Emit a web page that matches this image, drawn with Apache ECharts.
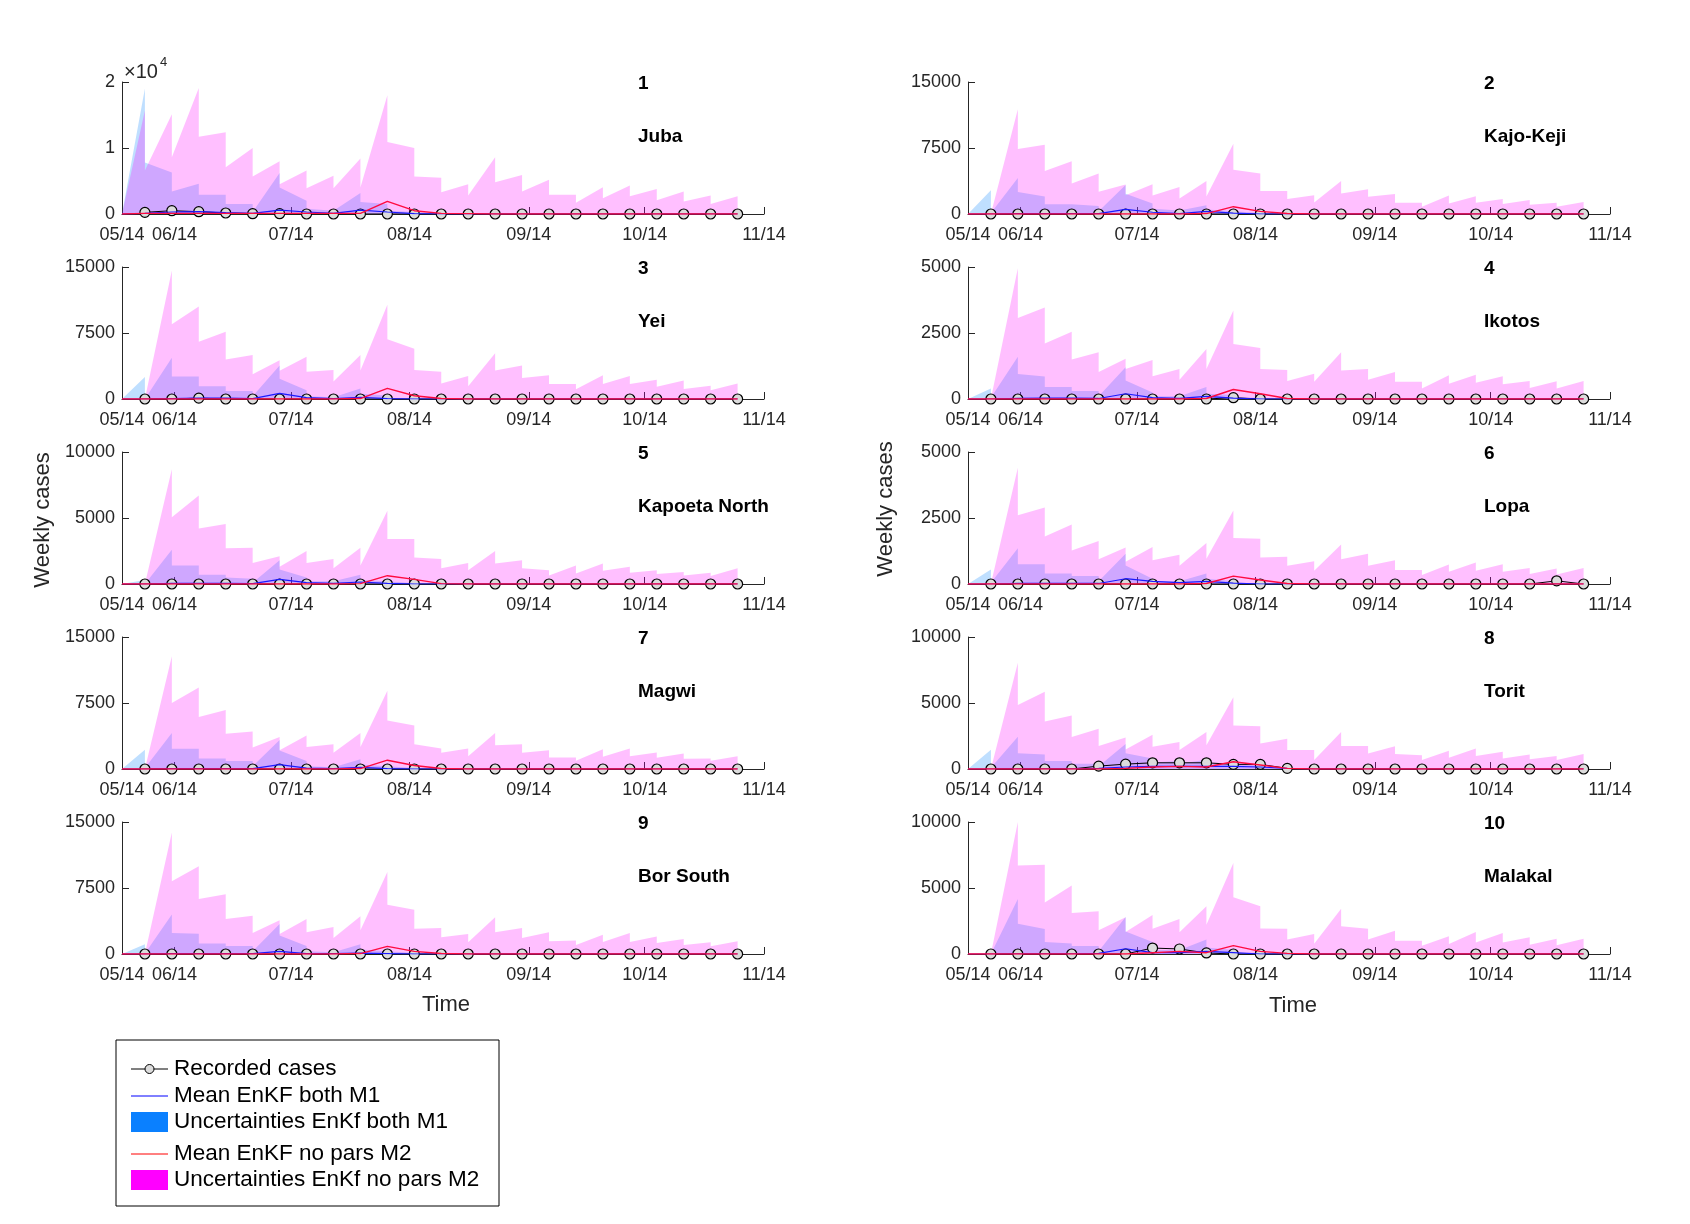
<!DOCTYPE html>
<html>
<head>
<meta charset="utf-8">
<title>EnKF weekly cases by district</title>
<script src="https://cdn.jsdelivr.net/npm/echarts@6.0.0/dist/echarts.min.js"></script>
<style>
  html, body { margin: 0; padding: 0; background: #fff; }
  #chart { width: 1690px; height: 1224px; }
</style>
</head>
<body>
<div id="chart"></div>
<script>
// time in weeks after 05/14, one entry per weekly report
const weekPos = [0.85, 1.85, 2.85, 3.85, 4.85, 5.85, 6.85, 7.85, 8.85, 9.85, 10.85, 11.85,
                 12.85, 13.85, 14.85, 15.85, 16.85, 17.85, 18.85, 19.85, 20.85, 21.85, 22.85];
// mean curves start at the axis origin
const meanPos = [0, 0.85, 1.85, 2.85, 3.85, 4.85, 5.85, 6.85, 7.85, 8.85, 9.85, 10.85, 11.85,
                 12.85, 13.85, 14.85, 15.85, 16.85, 17.85, 18.85, 19.85, 20.85, 21.85, 22.85];
const tickPos = [0, 1.95, 6.27, 10.67, 15.1, 19.4, 23.83];
const tickLabels = ['05/14', '06/14', '07/14', '08/14', '09/14', '10/14', '11/14'];

const districts = ['Juba', 'Kajo-Keji', 'Yei', 'Ikotos', 'Kapoeta North',
                   'Lopa', 'Magwi', 'Torit', 'Bor South', 'Malakal'];
const yMax = [20000, 15000, 15000, 5000, 10000, 5000, 15000, 10000, 15000, 10000];

// M2 band upper bound: forecast value reached at each report (peak) ...
const m2Peak = [
  [15700, 15100, 19100, 12400, 10000, 8000, 6600, 5800, 8400, 18000, 10000, 5500, 4500, 8600, 5900, 5200, 2900, 4050, 4300, 3800, 3400, 2800, 2700],
  [0, 11900, 7860, 6000, 4590, 3350, 3380, 3080, 3760, 7970, 4590, 2600, 2140, 3760, 2820, 2260, 1280, 2100, 2030, 1700, 1580, 1280, 1350],
  [0, 14600, 10500, 7650, 5000, 4400, 4800, 3300, 5000, 10700, 5700, 3100, 2600, 5200, 3800, 2700, 1700, 2700, 2600, 2200, 2100, 1500, 1750],
  [0, 4950, 3470, 2550, 1770, 1520, 1480, 1140, 1890, 3350, 1930, 1100, 960, 1770, 1140, 1020, 650, 900, 920, 860, 680, 670, 680],
  [0, 8700, 6700, 4550, 2750, 2100, 2500, 1900, 2750, 5550, 3400, 1900, 1600, 2500, 1800, 1050, 1400, 1550, 1300, 1050, 900, 850, 1200],
  [0, 4400, 2900, 2250, 1630, 1380, 1400, 1110, 1550, 2780, 1710, 1030, 860, 1500, 1150, 900, 530, 740, 810, 750, 610, 590, 610],
  [0, 12800, 9250, 6700, 4270, 3630, 3820, 2800, 4100, 8900, 4940, 2320, 2320, 4100, 2800, 2130, 1300, 2250, 2320, 1870, 1760, 1200, 1460],
  [0, 8050, 5850, 4050, 3050, 2380, 2600, 2050, 2800, 5430, 3230, 2300, 1430, 2800, 1750, 1730, 1050, 1380, 1550, 1300, 1100, 980, 1130],
  [0, 13800, 9960, 6800, 4360, 3830, 3980, 3070, 4280, 9320, 5040, 2950, 2270, 4170, 2950, 2460, 1520, 2200, 2390, 2000, 1700, 1330, 1440],
  [0, 10000, 6770, 5180, 3230, 2780, 2950, 2650, 3610, 6900, 3610, 1920, 1520, 3430, 1920, 1770, 1010, 1340, 1670, 1590, 1260, 1160, 1160]
];
// ... and value right after the analysis update
const m2Start = [
  [6600, 8600, 11700, 7100, 5700, 4500, 3900, 3900, 4000, 10900, 5700, 3300, 2800, 4800, 3400, 2900, 1700, 2400, 2700, 2100, 1900, 1500],
  [0, 7400, 4900, 3460, 2520, 2140, 2100, 1770, 2000, 5040, 2600, 1700, 1320, 2330, 1950, 1280, 830, 1200, 1280, 1130, 1050, 830],
  [0, 8500, 6500, 4500, 2800, 3200, 3100, 2000, 3250, 6800, 3300, 1750, 1450, 3250, 2400, 1700, 1100, 1700, 1700, 1400, 1150, 1000],
  [0, 3070, 2100, 1500, 1020, 1140, 860, 730, 1140, 2080, 1140, 680, 650, 1080, 730, 650, 400, 580, 620, 560, 420, 400],
  [0, 5050, 4200, 2700, 1600, 1300, 1600, 1200, 1400, 3400, 2000, 1200, 1050, 1550, 1200, 650, 800, 1000, 850, 750, 650, 600],
  [0, 2600, 1800, 1270, 940, 840, 900, 690, 960, 1740, 1000, 690, 500, 940, 690, 530, 340, 460, 500, 460, 380, 360],
  [0, 7500, 5900, 4000, 2430, 2130, 2500, 1840, 2500, 5500, 2800, 1840, 1460, 2700, 1840, 1300, 940, 1390, 1460, 1270, 1160, 940],
  [0, 4850, 3600, 2430, 1750, 1480, 1680, 1430, 1800, 3300, 1930, 1430, 680, 1750, 1180, 1130, 680, 850, 980, 800, 730, 680],
  [0, 8260, 6250, 3980, 2390, 2270, 2460, 1820, 2690, 5600, 2880, 1890, 1330, 2460, 1820, 1440, 1020, 1360, 1360, 1250, 1020, 870],
  [0, 6700, 3910, 3100, 1790, 1670, 1920, 1640, 2220, 4290, 1940, 1090, 780, 2100, 1090, 1010, 630, 760, 880, 880, 710, 660]
];

// M1 band upper bound, same layout
const m1Peak = [
  [19000, 6300, 4600, 2900, 1500, 6200, 2000, 500, 3200, 1500, 300, 0, 0, 0, 0, 0, 0, 0, 0, 0, 0, 0, 0],
  [2700, 4100, 2000, 1100, 900, 3300, 1200, 400, 1000, 300, 100, 0, 0, 0, 0, 0, 0, 0, 0, 0, 0, 0, 0],
  [2500, 4700, 2550, 1450, 900, 3800, 1000, 200, 1200, 400, 100, 0, 0, 0, 0, 0, 0, 0, 0, 0, 0, 0, 0],
  [400, 1600, 850, 450, 300, 1200, 250, 100, 450, 150, 50, 0, 0, 0, 0, 0, 0, 0, 0, 0, 0, 0, 0],
  [300, 2600, 1400, 700, 400, 1800, 500, 200, 700, 200, 50, 0, 0, 0, 0, 0, 0, 0, 0, 0, 0, 0, 0],
  [550, 1350, 750, 400, 300, 1150, 200, 100, 400, 100, 0, 0, 0, 0, 0, 0, 0, 0, 0, 0, 0, 0, 0],
  [2200, 4100, 2300, 1200, 900, 3300, 900, 200, 1100, 300, 100, 0, 0, 0, 0, 0, 0, 0, 0, 0, 0, 0, 0],
  [1450, 2450, 1100, 600, 400, 1900, 800, 600, 700, 500, 300, 100, 0, 0, 0, 0, 0, 0, 0, 0, 0, 0, 0],
  [1100, 4500, 2300, 1200, 900, 3400, 900, 200, 1100, 300, 100, 0, 0, 0, 0, 0, 0, 0, 0, 0, 0, 0, 0],
  [0, 4170, 1900, 800, 600, 2800, 900, 300, 1100, 300, 100, 0, 0, 0, 0, 0, 0, 0, 0, 0, 0, 0, 0]
];
const m1Start = [
  [7800, 3400, 2900, 1500, 300, 4000, 800, 300, 1800, 500, 0, 0, 0, 0, 0, 0, 0, 0, 0, 0, 0, 0],
  [100, 2500, 1100, 1000, 300, 2300, 600, 200, 500, 100, 0, 0, 0, 0, 0, 0, 0, 0, 0, 0, 0, 0],
  [0, 2550, 1450, 900, 300, 2300, 300, 100, 600, 100, 0, 0, 0, 0, 0, 0, 0, 0, 0, 0, 0, 0],
  [50, 950, 450, 300, 100, 700, 100, 50, 200, 50, 0, 0, 0, 0, 0, 0, 0, 0, 0, 0, 0, 0],
  [0, 1400, 700, 500, 100, 1100, 200, 100, 300, 50, 0, 0, 0, 0, 0, 0, 0, 0, 0, 0, 0, 0],
  [50, 750, 400, 300, 100, 700, 100, 50, 200, 0, 0, 0, 0, 0, 0, 0, 0, 0, 0, 0, 0, 0],
  [100, 2300, 1200, 900, 300, 2100, 300, 100, 500, 100, 0, 0, 0, 0, 0, 0, 0, 0, 0, 0, 0, 0],
  [100, 1200, 600, 400, 200, 1200, 500, 400, 400, 300, 100, 0, 0, 0, 0, 0, 0, 0, 0, 0, 0, 0],
  [50, 2400, 1200, 900, 300, 2100, 300, 100, 500, 100, 0, 0, 0, 0, 0, 0, 0, 0, 0, 0, 0, 0],
  [0, 2300, 900, 600, 200, 1700, 300, 200, 500, 100, 0, 0, 0, 0, 0, 0, 0, 0, 0, 0, 0, 0]
];

// recorded weekly cases
const recorded = [
  [250, 500, 350, 150, 50, 50, 0, 0, 0, 0, 0, 0, 0, 0, 0, 0, 0, 0, 0, 0, 0, 0, 0],
  [0, 0, 0, 0, 0, 0, 0, 0, 0, 0, 0, 0, 0, 0, 0, 0, 0, 0, 0, 0, 0, 0, 0],
  [0, 0, 100, 0, 0, 0, 0, 0, 0, 0, 0, 0, 0, 0, 0, 0, 0, 0, 0, 0, 0, 0, 0],
  [0, 0, 0, 0, 0, 0, 0, 0, 0, 50, 0, 0, 0, 0, 0, 0, 0, 0, 0, 0, 0, 0, 0],
  [0, 0, 0, 0, 0, 0, 0, 0, 0, 0, 0, 0, 0, 0, 0, 0, 0, 0, 0, 0, 0, 0, 0],
  [0, 0, 0, 0, 0, 0, 0, 0, 0, 0, 0, 0, 0, 0, 0, 0, 0, 0, 0, 0, 0, 120, 0],
  [0, 0, 0, 0, 0, 0, 0, 0, 0, 0, 0, 0, 0, 0, 0, 0, 0, 0, 0, 0, 0, 0, 0],
  [0, 0, 0, 0, 220, 370, 470, 470, 470, 350, 350, 50, 0, 0, 0, 0, 0, 0, 0, 0, 0, 0, 0],
  [0, 0, 0, 0, 0, 0, 0, 0, 0, 0, 0, 0, 0, 0, 0, 0, 0, 0, 0, 0, 0, 0, 0],
  [0, 0, 0, 0, 0, 0, 450, 380, 80, 0, 0, 0, 0, 0, 0, 0, 0, 0, 0, 0, 0, 0, 0]
];

// ensemble means (first value at the axis origin)
const m1Mean = [
  [0, 100, 300, 350, 200, 100, 600, 300, 100, 600, 300, 50, 0, 0, 0, 0, 0, 0, 0, 0, 0, 0, 0, 0],
  [0, 0, 50, 50, 50, 50, 530, 200, 50, 300, 100, 0, 0, 0, 0, 0, 0, 0, 0, 0, 0, 0, 0, 0],
  [0, 0, 50, 100, 100, 50, 630, 150, 50, 200, 50, 0, 0, 0, 0, 0, 0, 0, 0, 0, 0, 0, 0, 0],
  [0, 0, 20, 30, 30, 20, 200, 50, 20, 100, 30, 0, 0, 0, 0, 0, 0, 0, 0, 0, 0, 0, 0, 0],
  [0, 0, 50, 50, 50, 30, 350, 100, 50, 150, 50, 0, 0, 0, 0, 0, 0, 0, 0, 0, 0, 0, 0, 0],
  [0, 0, 20, 20, 20, 20, 200, 100, 50, 100, 30, 0, 0, 0, 0, 0, 0, 0, 0, 0, 0, 0, 0, 0],
  [0, 0, 50, 50, 50, 50, 500, 100, 50, 200, 50, 0, 0, 0, 0, 0, 0, 0, 0, 0, 0, 0, 0, 0],
  [0, 0, 20, 20, 20, 50, 150, 200, 200, 200, 200, 150, 50, 0, 0, 0, 0, 0, 0, 0, 0, 0, 0, 0],
  [0, 0, 50, 50, 50, 50, 300, 50, 50, 100, 50, 0, 0, 0, 0, 0, 0, 0, 0, 0, 0, 0, 0, 0],
  [0, 0, 20, 20, 20, 50, 400, 100, 100, 200, 100, 0, 0, 0, 0, 0, 0, 0, 0, 0, 0, 0, 0, 0]
];
const m2Mean = [
  [0, 100, 100, 100, 100, 100, 100, 100, 100, 100, 1900, 500, 100, 50, 0, 0, 0, 0, 0, 0, 0, 0, 0, 0],
  [0, 0, 0, 0, 0, 0, 0, 0, 0, 50, 830, 300, 50, 0, 0, 0, 0, 0, 0, 0, 0, 0, 0, 0],
  [0, 0, 0, 0, 0, 0, 0, 0, 0, 50, 1200, 370, 50, 0, 0, 0, 0, 0, 0, 0, 0, 0, 0, 0],
  [0, 0, 0, 0, 0, 0, 0, 0, 0, 20, 360, 200, 20, 0, 0, 0, 0, 0, 0, 0, 0, 0, 0, 0],
  [0, 0, 0, 0, 0, 0, 0, 0, 0, 30, 630, 350, 30, 0, 0, 0, 0, 0, 0, 0, 0, 0, 0, 0],
  [0, 0, 0, 0, 0, 0, 0, 0, 0, 20, 300, 150, 20, 0, 0, 0, 0, 0, 0, 0, 0, 0, 0, 0],
  [0, 0, 0, 0, 0, 0, 0, 0, 0, 50, 1000, 400, 50, 0, 0, 0, 0, 0, 0, 0, 0, 0, 0, 0],
  [0, 0, 0, 0, 0, 0, 50, 150, 200, 150, 550, 300, 50, 0, 0, 0, 0, 0, 0, 0, 0, 0, 0, 0],
  [0, 0, 0, 0, 0, 0, 0, 0, 0, 50, 870, 300, 50, 0, 0, 0, 0, 0, 0, 0, 0, 0, 0, 0],
  [0, 0, 0, 0, 0, 0, 0, 100, 200, 100, 630, 200, 50, 0, 0, 0, 0, 0, 0, 0, 0, 0, 0, 0]
];

const FONT = '"Liberation Sans", Arial, Helvetica, sans-serif';
const AXIS_COLOR = '#262626';
const colLeft = [122, 968];
const colWidth = [642, 642];
const rowTop = [82, 267, 452, 637, 822];
const panelHeight = 132;

let myChart = echarts.init(document.getElementById('chart'), null, { renderer: 'canvas' });

// sawtooth band: forecast rises to the peak at each report, then drops to the analysis value
function bandPoints(peaks, starts) {
  const pts = [[meanPos[0], 0]];
  for (let i = 0; i < weekPos.length; i++) {
    pts.push([weekPos[i], peaks[i]]);
    pts.push([weekPos[i], i < starts.length ? starts[i] : 0]);
  }
  return pts;
}

function zip(xs, ys) {
  return xs.map((x, i) => [x, ys[i]]);
}

function nearestLabel(v) {
  let best = 0;
  for (let i = 1; i < tickPos.length; i++) {
    if (Math.abs(tickPos[i] - v) < Math.abs(tickPos[best] - v)) best = i;
  }
  return tickLabels[best];
}

const grids = [], xAxes = [], yAxes = [], series = [], graphics = [];

districts.forEach((name, i) => {
  const col = i % 2, row = Math.floor(i / 2);
  grids.push({ left: colLeft[col], top: rowTop[row], width: colWidth[col], height: panelHeight });

  xAxes.push({
    type: 'value', gridIndex: i, min: 0, max: tickPos[tickPos.length - 1],
    axisLine: { show: true, onZero: false, lineStyle: { color: AXIS_COLOR, width: 1 } },
    axisTick: { show: true, inside: true, length: 7, customValues: tickPos, lineStyle: { color: AXIS_COLOR } },
    axisLabel: { customValues: tickPos, formatter: nearestLabel, color: AXIS_COLOR,
                 fontFamily: FONT, fontSize: 18, margin: 12 },
    splitLine: { show: false }
  });

  yAxes.push({
    type: 'value', gridIndex: i, min: 0, max: yMax[i], interval: yMax[i] / 2,
    axisLine: { show: true, lineStyle: { color: AXIS_COLOR, width: 1 } },
    axisTick: { show: true, inside: true, length: 7, lineStyle: { color: AXIS_COLOR } },
    axisLabel: {
      color: AXIS_COLOR, fontFamily: FONT, fontSize: 18, margin: 7,
      formatter: yMax[i] === 20000 ? (v => String(v / 10000)) : (v => String(v))
    },
    splitLine: { show: false }
  });

  series.push({
    name: 'Uncertainties EnKf both M1', type: 'line', xAxisIndex: i, yAxisIndex: i,
    data: bandPoints(m1Peak[i], m1Start[i]), symbol: 'none', silent: true, z: 1,
    lineStyle: { width: 0 }, areaStyle: { color: 'rgba(0,128,255,0.25)', opacity: 1 }
  });
  series.push({
    name: 'Uncertainties EnKf no pars M2', type: 'line', xAxisIndex: i, yAxisIndex: i,
    data: bandPoints(m2Peak[i], m2Start[i]), symbol: 'none', silent: true, z: 2,
    lineStyle: { width: 0 }, areaStyle: { color: 'rgba(255,0,255,0.25)', opacity: 1 }
  });
  series.push({
    name: 'Recorded cases', type: 'line', xAxisIndex: i, yAxisIndex: i,
    data: zip(weekPos, recorded[i]), symbol: 'circle', symbolSize: 10, showSymbol: true,
    silent: true, z: 4,
    lineStyle: { color: '#000', width: 1 },
    itemStyle: { color: '#dcdcdc', borderColor: '#000', borderWidth: 1.2 }
  });
  series.push({
    name: 'Mean EnKF both M1', type: 'line', xAxisIndex: i, yAxisIndex: i,
    data: zip(meanPos, m1Mean[i]), symbol: 'none', silent: true, z: 5,
    lineStyle: { color: '#1a1aff', width: 1.2 }
  });
  series.push({
    name: 'Mean EnKF no pars M2', type: 'line', xAxisIndex: i, yAxisIndex: i,
    data: zip(meanPos, m2Mean[i]), symbol: 'none', silent: true, z: 6,
    lineStyle: { color: '#ff0a40', width: 1.4 }
  });

  // panel number and district name
  const labelX = colLeft[col] + 516;
  graphics.push({ type: 'text', x: labelX, y: rowTop[row] + 2,
    style: { text: String(i + 1), font: 'bold 19px ' + FONT, fill: '#000', verticalAlign: 'middle' } });
  graphics.push({ type: 'text', x: labelX, y: rowTop[row] + 55,
    style: { text: name, font: 'bold 19px ' + FONT, fill: '#000', verticalAlign: 'middle' } });
});

// exponent marker of the Juba axis
graphics.push({ type: 'text', x: 124, y: 72,
  style: { text: '×10', font: '20px ' + FONT, fill: AXIS_COLOR, verticalAlign: 'middle' } });
graphics.push({ type: 'text', x: 160, y: 62,
  style: { text: '4', font: '13px ' + FONT, fill: AXIS_COLOR, verticalAlign: 'middle' } });

// axis titles
graphics.push({ type: 'text', x: 43, y: 520, rotation: Math.PI / 2,
  style: { text: 'Weekly cases', font: '22px ' + FONT, fill: AXIS_COLOR, align: 'center', verticalAlign: 'middle' } });
graphics.push({ type: 'text', x: 886, y: 509, rotation: Math.PI / 2,
  style: { text: 'Weekly cases', font: '22px ' + FONT, fill: AXIS_COLOR, align: 'center', verticalAlign: 'middle' } });
graphics.push({ type: 'text', x: 446, y: 1005,
  style: { text: 'Time', font: '22px ' + FONT, fill: AXIS_COLOR, align: 'center', verticalAlign: 'middle' } });
graphics.push({ type: 'text', x: 1293, y: 1006,
  style: { text: 'Time', font: '22px ' + FONT, fill: AXIS_COLOR, align: 'center', verticalAlign: 'middle' } });

// legend box
const legendRows = [1069, 1096, 1122, 1154, 1180];
const legendText = ['Recorded cases', 'Mean EnKF both M1', 'Uncertainties EnKf both M1',
                    'Mean EnKF no pars M2', 'Uncertainties EnKf no pars M2'];
graphics.push({ type: 'rect', shape: { x: 116, y: 1040, width: 383, height: 166 },
  style: { fill: '#fff', stroke: '#000', lineWidth: 1 } });
graphics.push({ type: 'line', shape: { x1: 131, y1: legendRows[0], x2: 168, y2: legendRows[0] },
  style: { stroke: '#000', lineWidth: 1 } });
graphics.push({ type: 'circle', shape: { cx: 149.5, cy: legendRows[0], r: 4.5 },
  style: { fill: '#dcdcdc', stroke: '#000', lineWidth: 1 } });
graphics.push({ type: 'line', shape: { x1: 131, y1: legendRows[1], x2: 168, y2: legendRows[1] },
  style: { stroke: '#0000ff', lineWidth: 1 } });
graphics.push({ type: 'rect', shape: { x: 131, y: legendRows[2] - 10, width: 37, height: 20 },
  style: { fill: '#0a80ff' } });
graphics.push({ type: 'line', shape: { x1: 131, y1: legendRows[3], x2: 168, y2: legendRows[3] },
  style: { stroke: '#ff0000', lineWidth: 1 } });
graphics.push({ type: 'rect', shape: { x: 131, y: legendRows[4] - 10, width: 37, height: 20 },
  style: { fill: '#ff00ff' } });
legendText.forEach((t, k) => {
  graphics.push({ type: 'text', x: 174, y: legendRows[k],
    style: { text: t, font: '22.5px ' + FONT, fill: '#000', verticalAlign: 'middle' } });
});

myChart.setOption({
  backgroundColor: '#fff',
  animation: false,
  textStyle: { fontFamily: FONT },
  grid: grids,
  xAxis: xAxes,
  yAxis: yAxes,
  series: series,
  graphic: graphics
});

window.onresize = function() {
  myChart.resize();
};
</script>
</body>
</html>
